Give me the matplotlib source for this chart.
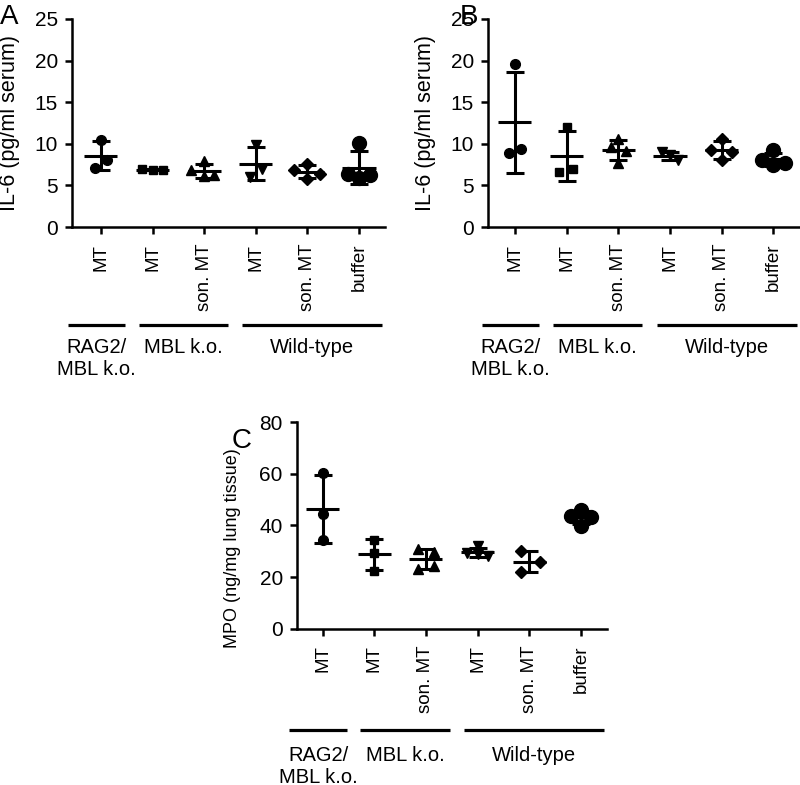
import numpy as np
import matplotlib.pyplot as plt

plt.rcParams['font.family'] = ['Liberation Sans', 'DejaVu Sans']

# x categories, shared by all three panels
labels = ['MT', 'MT', 'son. MT', 'MT', 'son. MT', 'buffer']
markers = ['o', 's', '^', 'v', 'D', 'o']
marker_sizes = [7, 6, 7, 7, 6, 10]

groups = ['RAG2/\nMBL k.o.', 'MBL k.o.', 'Wild-type']
group_spans = [(0.36, 1.47), (1.73, 3.46), (3.74, 6.45)]

# IL-6 (pg/ml serum), panel A
il6_a = [
    [10.5, 8.1, 7.1],
    [7.0, 6.8, 6.9],
    [7.9, 6.9, 6.1, 6.2],
    [9.8, 7.0, 6.0],
    [7.6, 6.8, 6.4, 5.8],
    [10.1, 6.4, 5.85, 6.25],
]
# IL-6 (pg/ml serum), panel B
il6_b = [
    [19.6, 8.85, 9.35],
    [12.0, 6.6, 7.0],
    [10.6, 9.6, 9.1, 7.7],
    [9.0, 8.6, 8.0],
    [10.6, 9.3, 9.0, 8.1],
    [9.3, 8.0, 7.5, 7.7],
]
# MPO (ng/mg lung tissue), panel C
mpo_c = [
    [60.5, 44.5, 34.5],
    [34.5, 29.5, 22.5],
    [30.8, 29.8, 23.2, 24.2],
    [32.0, 29.5, 28.8, 28.0],
    [30.2, 25.8, 22.0],
    [46.0, 43.5, 43.2, 39.8],
]

# horizontal spread of overlapping points (category units)
spread_a = [[0, 0.12, -0.12], [-0.2, 0, 0.2], [0, -0.25, 0, 0.2],
            [0, 0.12, -0.12], [0, -0.25, 0.25, 0], [0, -0.22, 0, 0.22]]
spread_b = [[0, -0.12, 0.12], [0, -0.14, 0.12], [0, -0.15, 0.15, 0],
            [-0.15, 0, 0.15], [0, -0.2, 0.2, 0], [0, -0.22, 0, 0.22]]
spread_c = [[0, 0, 0], [0, 0, 0], [-0.15, 0.15, -0.15, 0.15],
            [0, -0.2, 0, 0.2], [-0.15, 0.2, -0.15], [0, -0.2, 0.2, 0]]


def scatter_panel(ax, data, spread, yticks, xmin, ylabel, ylabel_size,
                  ylabel_xy, line_y, text_y):
    for i, vals in enumerate(data):
        x = i + 1
        vals = np.array(vals)
        mean = vals.mean()
        sd = vals.std(ddof=1)
        ax.plot(x + np.array(spread[i]), vals, linestyle='none',
                marker=markers[i], markersize=marker_sizes[i],
                color='black', zorder=3, clip_on=False)
        ax.hlines(mean, x - 0.32, x + 0.32, color='black', lw=2.2, zorder=2)
        ax.errorbar(x, mean, yerr=sd, fmt='none', ecolor='black',
                    elinewidth=2.2, capsize=6.7, capthick=2.2, zorder=2)

    ax.set_xlim(xmin, 6.5)
    ax.set_ylim(yticks[0], yticks[-1])
    ax.set_yticks(yticks)
    ax.set_xticks(range(1, len(labels) + 1))
    ax.set_xticklabels(labels, rotation=90, va='top', fontsize=13.5)
    ax.tick_params(axis='both', direction='out', length=5, width=1.8,
                   labelsize=15, pad=5)
    ax.tick_params(axis='x', pad=7, labelsize=13.5)
    for side in ['top', 'right']:
        ax.spines[side].set_visible(False)
    for side in ['left', 'bottom']:
        ax.spines[side].set_linewidth(1.8)
    ax.set_ylabel(ylabel, fontsize=ylabel_size)
    ax.yaxis.set_label_coords(*ylabel_xy)

    # group bars under the tick labels
    trans = ax.get_xaxis_transform()
    for name, (x0, x1) in zip(groups, group_spans):
        ax.plot([x0, x1], [line_y, line_y], color='black', lw=2.3,
                transform=trans, clip_on=False, solid_capstyle='butt')
        ax.text((x0 + x1) / 2, text_y, name, transform=trans, ha='center',
                va='top', fontsize=14.5, multialignment='center',
                linespacing=1.15)


fig = plt.figure(figsize=(8, 7.85), dpi=100)
ax_a = fig.add_axes([0.09, 0.7108, 0.391, 0.265])
ax_b = fig.add_axes([0.61, 0.7108, 0.389, 0.265])
ax_c = fig.add_axes([0.3709, 0.1991, 0.3875, 0.263])

scatter_panel(ax_a, il6_a, spread_a, [0, 5, 10, 15, 20, 25], 0.44,
              'IL-6 (pg/ml serum)', 15.5, (-0.166, 0.5), -0.471, -0.535)
scatter_panel(ax_b, il6_b, spread_b, [0, 5, 10, 15, 20, 25], 0.48,
              'IL-6 (pg/ml serum)', 15.5, (-0.167, 0.5), -0.471, -0.535)
scatter_panel(ax_c, mpo_c, spread_c, [0, 20, 40, 60, 80], 0.5,
              'MPO (ng/mg lung tissue)', 13, (-0.18, 0.39), -0.491, -0.57)

fig.text(0.0, 0.995, 'A', fontsize=20, va='top', ha='left')
fig.text(0.575, 0.995, 'B', fontsize=20, va='top', ha='left')
fig.text(0.29, 0.455, 'C', fontsize=20, va='top', ha='left')

fig.savefig('out.png', dpi=100)
